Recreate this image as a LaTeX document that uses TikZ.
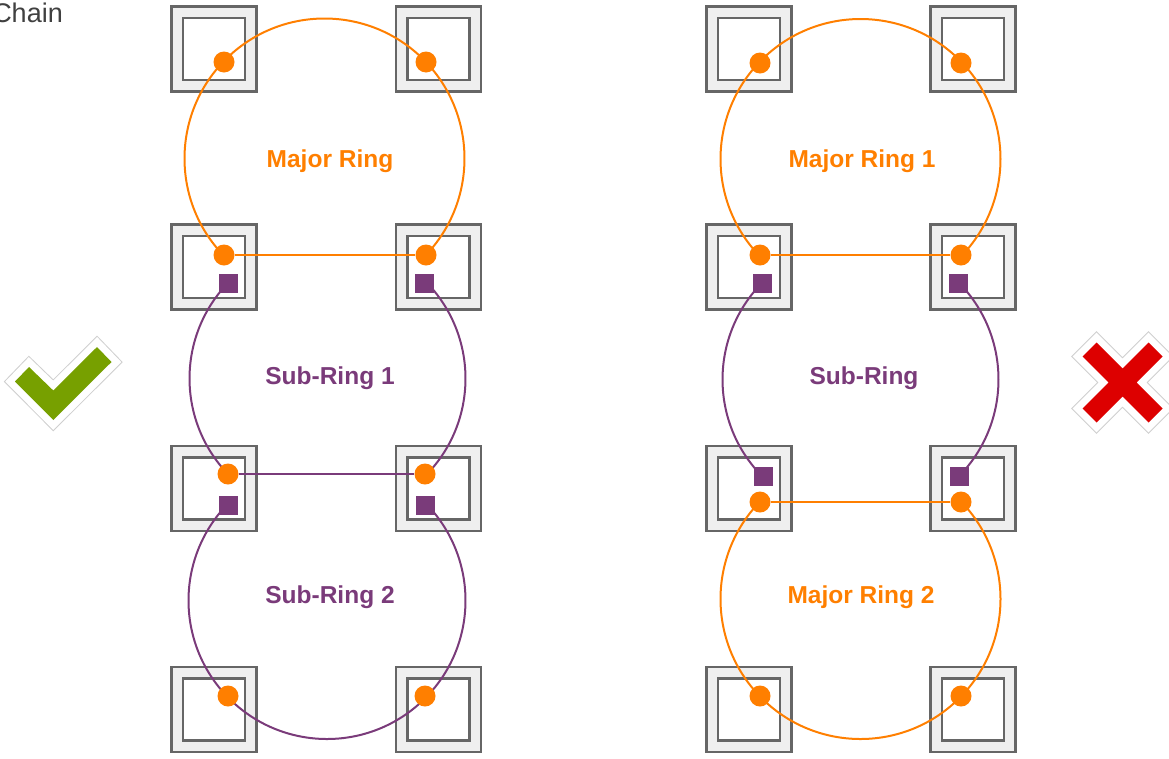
\documentclass[tikz,border=0pt]{standalone}
\usepackage{fontspec}
\setmainfont{Liberation Sans}
\definecolor{ringorange}{HTML}{FF7F00}
\definecolor{ringpurple}{HTML}{7A3B7A}
\definecolor{boxgray}{HTML}{666666}
\definecolor{boxfill}{HTML}{EFEFEF}
\definecolor{okgreen}{HTML}{77A000}
\definecolor{nored}{HTML}{DD0000}
\definecolor{markedge}{HTML}{CFCFCF}
\definecolor{chaingray}{HTML}{404040}
\begin{document}
\begin{tikzpicture}[x=1pt,y=-1pt,
  outerbox/.style={rectangle,draw=boxgray,fill=boxfill,line width=2.8pt,minimum size=85pt,inner sep=0pt},
  innerbox/.style={rectangle,draw=boxgray,fill=white,line width=2.8pt,minimum size=62pt,inner sep=0pt},
  port/.style={circle,fill=ringorange,minimum size=21pt,inner sep=0pt},
  subport/.style={rectangle,fill=ringpurple,minimum size=19pt,inner sep=0pt},
  majorline/.style={draw=ringorange,line width=2pt},
  subline/.style={draw=ringpurple,line width=2pt},
  majorlabel/.style={text=ringorange,font=\bfseries\fontsize{24.5}{29}\selectfont,inner sep=0pt},
  sublabel/.style={text=ringpurple,font=\bfseries\fontsize{24.5}{29}\selectfont,inner sep=0pt},
  markrim/.style={draw=markedge,line width=16pt,line join=miter},
  markgap/.style={draw=white,line width=14pt,line join=miter}
]
\useasboundingbox (0,0) rectangle (1169,758);
\clip (0,0) rectangle (1169,758);

% title fragment
\node[anchor=base east,inner sep=0pt,text=chaingray,font=\fontsize{27}{32}\selectfont] (title) at (63,22) {Chain};

% ---------- switches ----------
\foreach \n/\x/\y in {a1/214/49, a2/438.5/49, a3/214/267, a4/438.5/267,
                      a5/214/488.5, a6/438.5/488.5, a7/214/709.5, a8/438.5/709.5,
                      b1/749/49, b2/973/49, b3/749/267, b4/973/267,
                      b5/749/488.5, b6/973/488.5, b7/749/709.5, b8/973/709.5}{
  \node[outerbox] (o\n) at (\x,\y) {};
  \node[innerbox] (i\n) at (\x,\y) {};
}

% ---------- ring centres ----------
\coordinate (cA1) at (324.5,158.5);
\coordinate (cA2) at (327.5,378.5);
\coordinate (cA3) at (327,600.5);
\coordinate (cB1) at (860.5,159);
\coordinate (cB2) at (860.5,379.5);
\coordinate (cB3) at (860.5,599);

% ---------- ring arcs ----------
% left: Major Ring
\draw[majorline] (cA1) ++(136.2:140) arc[start angle=136.2,end angle=403.6,radius=140];
% left: Sub-Ring 1
\draw[subline] (cA2) ++(223.8:138) arc[start angle=223.8,end angle=136.2,radius=138];
\draw[subline] (cA2) ++(-44.7:138) arc[start angle=-44.7,end angle=44.4,radius=138];
% left: Sub-Ring 2
\draw[subline] (cA3) ++(224:138.5) arc[start angle=224,end angle=-44.3,radius=138.5];
% right: Major Ring 1
\draw[majorline] (cB1) ++(136.3:140) arc[start angle=136.3,end angle=403.7,radius=140];
% right: Sub-Ring
\draw[subline] (cB2) ++(224.4:138) arc[start angle=224.4,end angle=135.3,radius=138];
\draw[subline] (cB2) ++(-44.7:138) arc[start angle=-44.7,end angle=44.4,radius=138];
% right: Major Ring 2
\draw[majorline] (cB3) ++(224:140) arc[start angle=224,end angle=-44,radius=140];

% ---------- ports, left ----------
\node[port] (pa1) at (224,62) {};
\node[port] (pa2) at (426,62) {};
\node[port] (pa3) at (224,255) {};
\node[port] (pa4) at (426,255) {};
\node[subport] (qa3) at (228,283) {};
\node[subport] (qa4) at (424,283) {};
\node[port] (pa5) at (228,474) {};
\node[port] (pa6) at (425,474) {};
\node[subport] (qa5) at (228,505) {};
\node[subport] (qa6) at (425,505) {};
\node[port] (pa7) at (228,696) {};
\node[port] (pa8) at (425,696) {};

% ---------- ports, right ----------
\node[port] (pb1) at (760,63) {};
\node[port] (pb2) at (961,63) {};
\node[port] (pb3) at (760,255) {};
\node[port] (pb4) at (961,255) {};
\node[subport] (qb3) at (762,283) {};
\node[subport] (qb4) at (958,283) {};
\node[subport] (qb5) at (763,476) {};
\node[subport] (qb6) at (959,476) {};
\node[port] (pb5) at (760,502) {};
\node[port] (pb6) at (961,502) {};
\node[port] (pb7) at (760,696) {};
\node[port] (pb8) at (961,696) {};

% ---------- straight links ----------
\draw[majorline] (pa3) -- (pa4);
\draw[subline] (pa5) -- (pa6);
\draw[majorline] (pb3) -- (pb4);
\draw[majorline] (pb5) -- (pb6);

% ---------- labels ----------
\node[majorlabel] (la1) at (330,161) {Major Ring};
\node[sublabel] (la2) at (330,378) {Sub-Ring 1};
\node[sublabel] (la3) at (330,597) {Sub-Ring 2};
\node[majorlabel] (lb1) at (862,161) {Major Ring 1};
\node[sublabel] (lb2) at (864,378) {Sub-Ring};
\node[majorlabel] (lb3) at (861,597) {Major Ring 2};

% ---------- check mark ----------
\def\checkpath{(15,381.5) -- (29,367) -- (53.3,390.5) -- (97,347) -- (111.5,362) -- (53.3,420) -- cycle}
\draw[markrim] \checkpath;
\draw[markgap] \checkpath;
\fill[okgreen] \checkpath;

% ---------- cross ----------
\begin{scope}[shift={(1122.5,382.5)}]
\def\crosspath{(-26,-40) -- (0,-14) -- (26,-40) -- (40,-26) -- (14,0) -- (40,26) -- (26,40) -- (0,14) -- (-26,40) -- (-40,26) -- (-14,0) -- (-40,-26) -- cycle}
\draw[markrim] \crosspath;
\draw[markgap] \crosspath;
\fill[nored] \crosspath;
\end{scope}
\end{tikzpicture}
\end{document}
